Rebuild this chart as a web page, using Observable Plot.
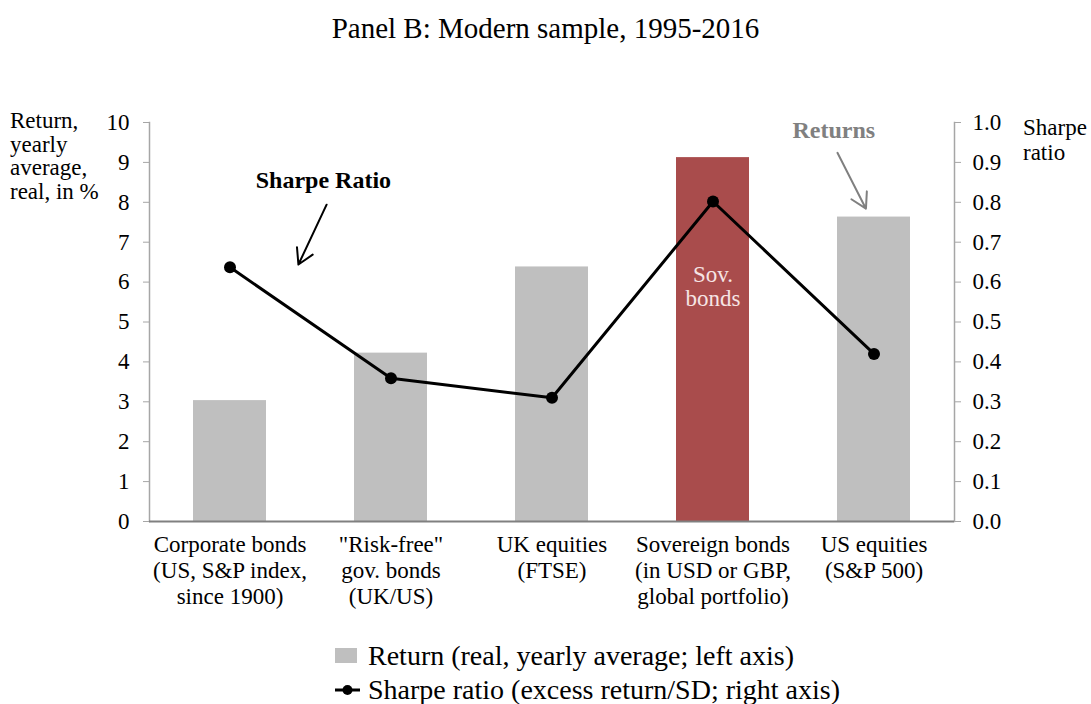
<!DOCTYPE html>
<html><head><meta charset="utf-8">
<script src="https://cdn.jsdelivr.net/npm/d3@7"></script>
<script src="https://cdn.jsdelivr.net/npm/@observablehq/plot@0.6"></script>
<style>
body{margin:0;background:#fff;font-family:"Liberation Serif","Times New Roman",serif;}
#wrap{position:relative;width:1091px;height:704px;overflow:hidden;background:#fff}
.abs{position:absolute;color:#000;white-space:nowrap}
</style></head><body>
<div id="wrap">
  <div id="chart" class="abs" style="left:0;top:0"></div>
  <div class="abs" style="left:0;width:1091px;top:10px;text-align:center;font-size:29px;line-height:36px">Panel B: Modern sample, 1995-2016</div>
  <div class="abs" style="left:10px;top:109px;font-size:23px;line-height:23.7px">Return,<br>yearly<br>average,<br>real, in %</div>
  <div class="abs" style="left:1023px;top:115px;font-size:23px;line-height:25px">Sharpe<br>ratio</div>
  <div class="abs" id="legend" style="left:335px;top:639px;font-size:28px;line-height:34px"></div>
</div>
<script>
// ---- data ----
const categories = ["Corporate bonds", "Risk-free gov. bonds", "UK equities", "Sovereign bonds", "US equities"];
const tickLabels = [
  "Corporate bonds\n(US, S&P index,\nsince 1900)",
  "\"Risk-free\"\ngov. bonds\n(UK/US)",
  "UK equities\n(FTSE)",
  "Sovereign bonds\n(in USD or GBP,\nglobal portfolio)",
  "US equities\n(S&P 500)"
];
const returns = [3.03, 4.22, 6.38, 9.12, 7.63];
const sharpe = [0.637, 0.359, 0.31, 0.802, 0.42];
const highlighted = ["Sovereign bonds"];
const leftTicks = [0,1,2,3,4,5,6,7,8,9,10];
const rightTicks = [0,0.1,0.2,0.3,0.4,0.5,0.6,0.7,0.8,0.9,1.0];
const legendLabels = ["Return (real, yearly average; left axis)", "Sharpe ratio (excess return/SD; right axis)"];
// annotations (x in category-index units, y in left-axis units)
const annoText = [
  {label: "Sharpe Ratio", x: 0.58, y: 8.55, color: "#000"},
  {label: "Returns", x: 3.75, y: 9.8, color: "#808080"}
];
const annoArrows = [
  {x1: 0.60, y1: 7.94, x2: 0.425, y2: 6.44, color: "#000"},
  {x1: 3.773, y1: 9.24, x2: 3.95, y2: 7.84, color: "#808080"}
];
const barLabel = [{label: "Sov.\nbonds", cat: "Sovereign bonds", y: 5.9}];

// ---- build ----
const RATIO = 10; // right axis (0..1) mapped onto left axis (0..10)
const data = categories.map((c, i) => ({i, cat: c, ret: returns[i], sharpe: sharpe[i], hi: highlighted.includes(c)}));
const half = 0.2267;
const serif = "Liberation Serif";

const chart = Plot.plot({
  width: 1091,
  height: 630,
  marginLeft: 149,
  marginRight: 137,
  marginTop: 122,
  marginBottom: 109,
  style: {fontFamily: serif, fontSize: "23px", color: "#000", background: "transparent", overflow: "visible"},
  x: {domain: [-0.5, categories.length - 0.5]},
  y: {domain: [0, 10]},
  marks: [
    Plot.rectY(data.filter(d => !d.hi), {x1: d => d.i - half, x2: d => d.i + half, y: "ret", fill: "#bfbfbf"}),
    Plot.rectY(data.filter(d => d.hi), {x1: d => d.i - half, x2: d => d.i + half, y: "ret", fill: "#a94c4c"}),
    Plot.text(barLabel, {x: d => categories.indexOf(d.cat), y: "y", text: "label", fill: "#f6e4e4", fontSize: 23, lineHeight: 1.05}),
    Plot.frame({anchor: "left", stroke: "#a6a6a6", strokeWidth: 1.5}),
    Plot.frame({anchor: "right", stroke: "#a6a6a6", strokeWidth: 1.5}),
    Plot.ruleY([0], {stroke: "#808080", strokeWidth: 2}),
    Plot.axisY({anchor: "left", ticks: leftTicks, tickSize: 6, tickPadding: 14, stroke: "#a6a6a6", label: null, fontSize: 23}),
    Plot.axisY({anchor: "right", ticks: rightTicks.map(v => v * RATIO), tickFormat: d => (d / RATIO).toFixed(1), tickSize: 6, tickPadding: 12, stroke: "#a6a6a6", label: null, fontSize: 23}),
    Plot.axisX({ticks: data.map(d => d.i), tickFormat: i => tickLabels[i], tickSize: 0, tickPadding: 12, label: null, fontSize: 23, lineHeight: 1.13}),
    Plot.line(data, {x: "i", y: d => d.sharpe * RATIO, stroke: "#000", strokeWidth: 3}),
    Plot.dot(data, {x: "i", y: d => d.sharpe * RATIO, r: 6, fill: "#000"}),
    Plot.text(annoText, {x: "x", y: "y", text: "label", fill: "color", fontWeight: "bold", fontSize: 24}),
    Plot.arrow(annoArrows, {x1: "x1", y1: "y1", x2: "x2", y2: "y2", stroke: "color", strokeWidth: 2, headLength: 13})
  ]
});
document.getElementById("chart").appendChild(chart);

// legend
const leg = document.getElementById("legend");
leg.innerHTML =
  `<div style="display:flex;align-items:center;height:34px"><svg width="33" height="34"><rect x="0" y="9" width="22" height="15" fill="#bfbfbf"/></svg><span>${legendLabels[0]}</span></div>` +
  `<div style="display:flex;align-items:center;height:34px"><svg width="33" height="34"><line x1="0" x2="25" y1="17" y2="17" stroke="#000" stroke-width="3"/><circle cx="12.5" cy="17" r="5" fill="#000"/></svg><span>${legendLabels[1]}</span></div>`;
</script>
</body></html>
